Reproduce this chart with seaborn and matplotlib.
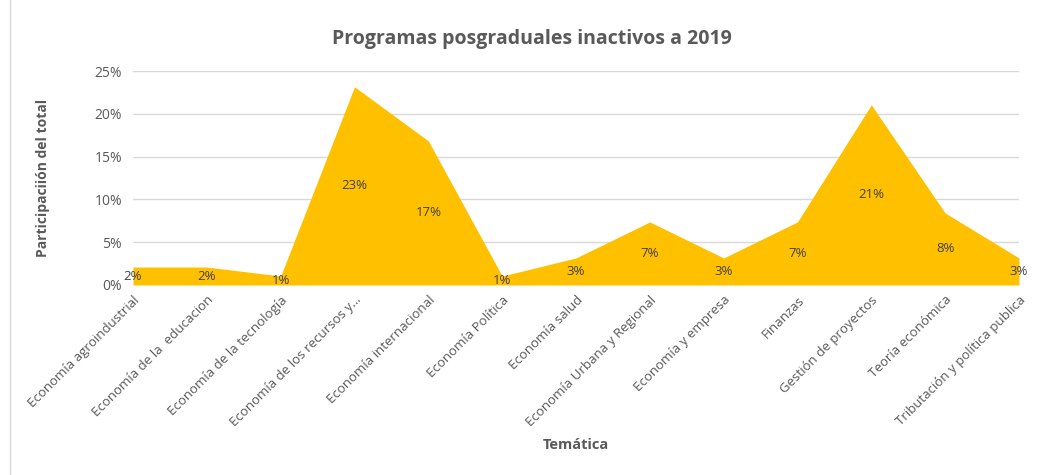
import numpy as np
import pandas as pd
import matplotlib
matplotlib.use("Agg")
import matplotlib.pyplot as plt
from matplotlib.lines import Line2D
from matplotlib.ticker import PercentFormatter
import seaborn as sns

# Data
tematicas = [
    "Economía agroindustrial",
    "Economía de la  educacion",
    "Economía de la tecnología",
    "Economía de los recursos y…",
    "Economía internacional",
    "Economía Política",
    "Economía salud",
    "Economía Urbana y Regional",
    "Economía y empresa",
    "Finanzas",
    "Gestión de proyectos",
    "Teoría económica",
    "Tributación y política publica",
]
participacion = [0.021, 0.021, 0.0105, 0.2316, 0.1684, 0.0105, 0.0316,
                 0.0737, 0.0316, 0.0737, 0.2105, 0.0842, 0.0316]

df = pd.DataFrame({"tematica": tematicas, "participacion": participacion})
df["pos"] = np.arange(len(df))

sns.set_theme(style="white")
plt.rcParams["font.family"] = ["Open Sans", "DejaVu Sans"]

gray = "#595959"
gold = "#FFC000"

fig = plt.figure(figsize=(10.41, 4.75), dpi=100)
ax = fig.add_axes([0.1278, 0.4, 0.851, 0.4505])

# Area
sns.lineplot(data=df, x="pos", y="participacion", color=gold, linewidth=0, ax=ax)
ax.fill_between(df["pos"], df["participacion"], color=gold, linewidth=0, zorder=2)

# Data labels (centered in the area)
for p, v in zip(df["pos"], df["participacion"]):
    ax.text(p, v / 2, f"{v:.0%}", ha="center", va="center", fontsize=9.5,
            color="#404040", clip_on=False, zorder=3)

ax.set_xlim(0, len(df) - 1)
ax.set_ylim(0, 0.25)
ax.set_yticks([0, 0.05, 0.10, 0.15, 0.20, 0.25])
ax.yaxis.set_major_formatter(PercentFormatter(1.0, decimals=0))
ax.yaxis.grid(True, color="#D9D9D9", linewidth=1)
ax.set_axisbelow(True)

ax.set_xticks(df["pos"])
ax.set_xticklabels(df["tematica"], rotation=45, ha="right", rotation_mode="anchor",
                   fontsize=9.5, color=gray)
ax.tick_params(axis="y", labelsize=10, colors=gray, length=0, pad=8)
ax.tick_params(axis="x", length=0, pad=6)

for s in ax.spines.values():
    s.set_visible(False)

ax.set_xlabel("Temática", fontsize=10.5, fontweight="bold", color=gray, labelpad=6)
ax.set_ylabel("Participaciión del total", fontsize=10, fontweight="bold", color=gray, labelpad=32)
fig.text(0.511, 0.918, "Programas posgraduales inactivos a 2019", ha="center", va="center",
         fontsize=14, fontweight="bold", color=gray)

fig.add_artist(Line2D([0.0096, 0.0096], [0, 1], color="#D9D9D9", linewidth=1))

fig.savefig("out.png", dpi=100)
